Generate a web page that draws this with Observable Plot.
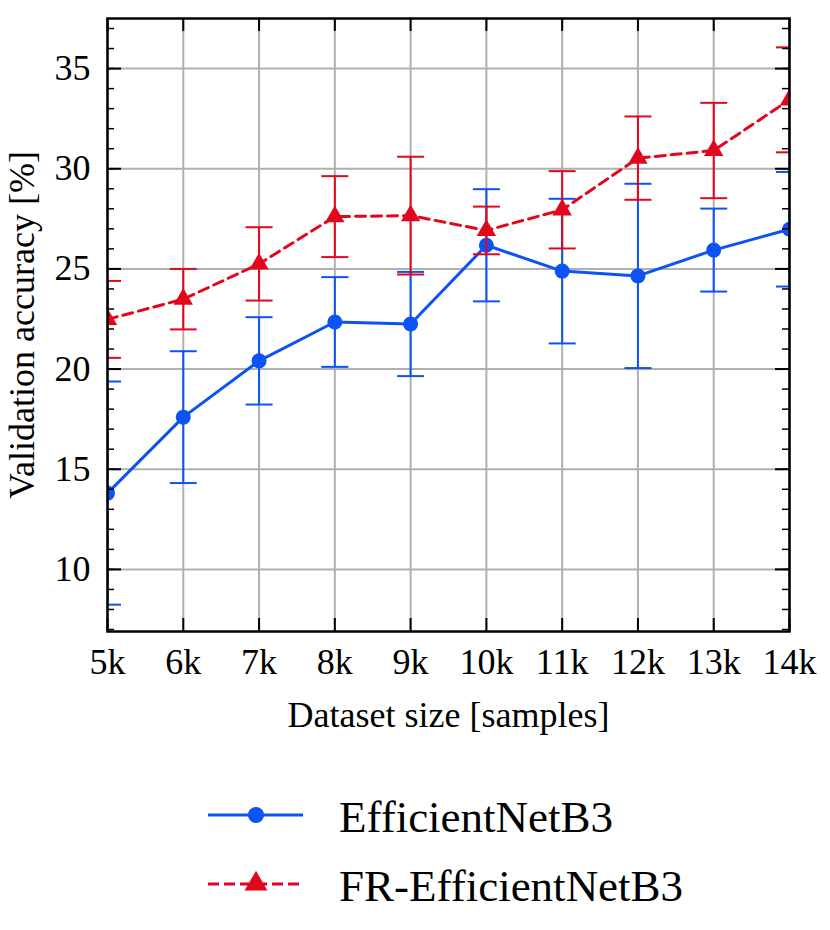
<!DOCTYPE html>
<html>
<head>
<meta charset="utf-8">
<script src="https://cdn.jsdelivr.net/npm/d3@7"></script>
<script src="https://cdn.jsdelivr.net/npm/@observablehq/plot@0.6"></script>
<style>
  html, body { margin: 0; padding: 0; background: white; }
  #wrap { position: relative; width: 830px; height: 930px; }
  #legend { position: absolute; left: 0; top: 770px; }
</style>
</head>
<body>
<div id="wrap"></div>
<script>
// ---- data ----
const sizes = [5, 6, 7, 8, 9, 10, 11, 12, 13, 14];          // thousands of samples
const xTickLabels = ["5k", "6k", "7k", "8k", "9k", "10k", "11k", "12k", "13k", "14k"];
const yTickValues = [10, 15, 20, 25, 30, 35];
const seriesNames = ["EfficientNetB3", "FR-EfficientNetB3"];
const effMean = [13.81, 17.60, 20.41, 22.35, 22.25, 26.18, 24.89, 24.65, 25.94, 26.98];
const effErr  = [5.57, 3.29, 2.18, 2.24, 2.60, 2.80, 3.61, 4.60, 2.07, 2.86];
const frMean  = [22.48, 23.49, 25.25, 27.61, 27.66, 26.92, 27.95, 30.53, 30.91, 33.44];
const frErr   = [1.92, 1.51, 1.83, 2.02, 2.94, 1.19, 1.93, 2.08, 2.38, 2.62];

const blue = "#0d52f2";
const red = "#e2071c";

const W = 830, H = 760;
const mL = 107, mR = 41, mT = 18, mB = 129;
const pw = W - mL - mR, ph = H - mT - mB;

const rows = (means, errs, name) => sizes.map((s, i) => ({size: s, mean: means[i], lo: means[i] - errs[i], hi: means[i] + errs[i], series: name}));
const effRows = rows(effMean, effErr, seriesNames[0]);
const frRows = rows(frMean, frErr, seriesNames[1]);

const capSymbol = { draw(ctx) { ctx.moveTo(-13.5, 0); ctx.lineTo(13.5, 0); } };

const yMinor = d3.range(7, 38);
const xLabel = "Dataset size [samples]";
const yLabel = "Validation accuracy [%]";

function seriesMarks(data, color, symbol, r, dash) {
  return [
    Plot.ruleX(data, {x: "size", y1: "lo", y2: "hi", stroke: color, strokeWidth: 2, clip: true}),
    Plot.dot(data, {x: "size", y: "lo", symbol: capSymbol, stroke: color, fill: "none", strokeWidth: 2, clip: true}),
    Plot.dot(data, {x: "size", y: "hi", symbol: capSymbol, stroke: color, fill: "none", strokeWidth: 2, clip: true}),
    Plot.line(data, {x: "size", y: "mean", stroke: color, strokeWidth: 3, strokeDasharray: dash, clip: true}),
    Plot.dot(data, {x: "size", y: "mean", symbol, r, fill: color, stroke: "none", clip: true})
  ];
}

const chart = Plot.plot({
  width: W, height: H,
  marginLeft: mL, marginRight: mR, marginTop: mT, marginBottom: mB,
  style: {fontFamily: "'Liberation Serif', 'Times New Roman', serif", fontSize: "36px", background: "white", color: "black"},
  x: {domain: [5, 14]},
  y: {domain: [6.9, 37.5]},
  marks: [
    Plot.gridX(sizes, {stroke: "#b0b0b0", strokeOpacity: 1, strokeWidth: 2}),
    Plot.gridY(yTickValues, {stroke: "#b0b0b0", strokeOpacity: 1, strokeWidth: 2}),
    ...seriesMarks(effRows, blue, "circle", 7.5, null),
    ...seriesMarks(frRows, red, "triangle", 7.2, "10,6"),
    // inward ticks
    Plot.tickY(yTickValues, {y: d => d, insetRight: pw - 14, stroke: "black", strokeWidth: 2}),
    Plot.tickY(yMinor, {y: d => d, insetRight: pw - 7, stroke: "black", strokeWidth: 1.5}),
    Plot.tickY(yTickValues, {y: d => d, insetLeft: pw - 14, stroke: "black", strokeWidth: 2}),
    Plot.tickY(yMinor, {y: d => d, insetLeft: pw - 7, stroke: "black", strokeWidth: 1.5}),
    Plot.tickX(sizes, {x: d => d, insetTop: ph - 13, stroke: "black", strokeWidth: 2}),
    Plot.tickX(sizes, {x: d => d, insetBottom: ph - 13, stroke: "black", strokeWidth: 2}),
    Plot.frame({stroke: "black", strokeWidth: 2.5}),
    Plot.axisX(sizes, {anchor: "bottom", tickSize: 0, tickPadding: 17, label: null,
      tickFormat: d => xTickLabels[sizes.indexOf(d)]}),
    Plot.axisY(yTickValues, {anchor: "left", tickSize: 0, tickPadding: 17, label: null}),
    Plot.text([xLabel], {text: d => d, frameAnchor: "bottom", dy: 84, lineAnchor: "middle", textAnchor: "middle", fill: "black"}),
    Plot.text([yLabel], {text: d => d, frameAnchor: "left", dx: -85, rotate: -90, lineAnchor: "middle", textAnchor: "middle", fill: "black"})
  ]
});

const wrap = document.getElementById("wrap");
wrap.appendChild(chart);

// ---- legend (below the chart) ----
const ns = "http://www.w3.org/2000/svg";
const leg = document.createElementNS(ns, "svg");
leg.setAttribute("id", "legend");
leg.setAttribute("width", 830);
leg.setAttribute("height", 150);
const legendItems = [
  {name: seriesNames[0], color: blue, dash: null, sym: "circle"},
  {name: seriesNames[1], color: red, dash: "11,5", sym: "triangle"}
];
legendItems.forEach((it, i) => {
  const cy = 45 + i * 69;
  const line = document.createElementNS(ns, "line");
  line.setAttribute("x1", 208); line.setAttribute("x2", 303);
  line.setAttribute("y1", cy); line.setAttribute("y2", cy);
  line.setAttribute("stroke", it.color); line.setAttribute("stroke-width", 3);
  if (it.dash) line.setAttribute("stroke-dasharray", it.dash);
  leg.appendChild(line);
  const p = document.createElementNS(ns, "path");
  const sz = it.sym === "circle" ? Math.PI * 8 * 8 : Math.PI * 8.5 * 8.5;
  p.setAttribute("d", d3.symbol(it.sym === "circle" ? d3.symbolCircle : d3.symbolTriangle, sz)());
  p.setAttribute("transform", `translate(256,${cy})`);
  p.setAttribute("fill", it.color);
  leg.appendChild(p);
  const t = document.createElementNS(ns, "text");
  t.setAttribute("x", 339); t.setAttribute("y", cy + 17);
  t.setAttribute("font-family", "'Liberation Serif', 'Times New Roman', serif");
  t.setAttribute("font-size", 45);
  t.setAttribute("fill", "black");
  t.textContent = it.name;
  leg.appendChild(t);
});
wrap.appendChild(leg);
</script>
</body>
</html>
